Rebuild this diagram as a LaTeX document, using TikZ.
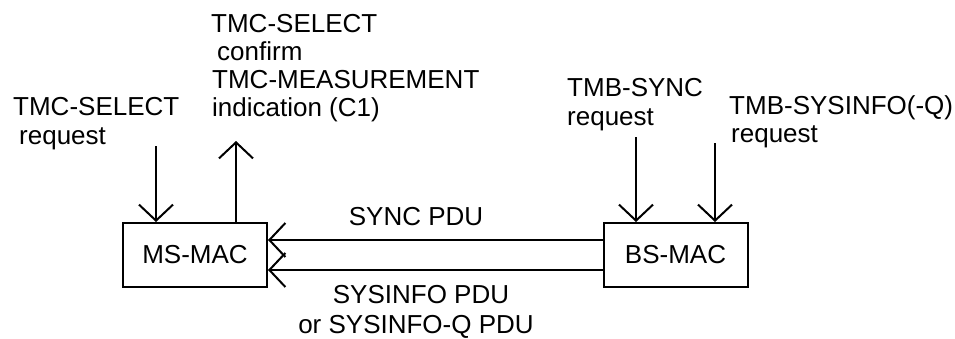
\documentclass[tikz,border=0pt]{standalone}
\usepackage{fontspec}
\setmainfont{Liberation Sans}
\usetikzlibrary{arrows.meta}
\begin{document}
\begin{tikzpicture}[x=1pt,y=-1pt,
  lbl/.style={anchor=base west,inner sep=0pt,font=\fontsize{26pt}{28pt}\selectfont},
  clbl/.style={anchor=base,inner sep=0pt,font=\fontsize{26pt}{28pt}\selectfont},
  macbox/.style={draw,line width=2pt,minimum width=144pt,minimum height=64pt,inner sep=0pt,font=\fontsize{26pt}{28pt}\selectfont},
  vee/.style={-{Straight Barb[length=16pt,width=34pt,line width=2pt]}},
  conn/.style={line width=2pt}]
\useasboundingbox (0,0) rectangle (955,338);
% boxes
\node[macbox] (ms) at (195,255) {MS-MAC};
\node[macbox] (bs) at (675.5,255) {BS-MAC};
% labels
\node[lbl] (ls1) at (13,115) {TMC-SELECT};
\node[lbl] (ls2) at (19,144) {request};
\node[lbl] (m1) at (211,32) {TMC-SELECT};
\node[lbl] (m2) at (217,60) {confirm};
\node[lbl] (m3) at (212,88) {TMC-MEASUREMENT};
\node[lbl] (m4) at (212,116) {indication (C1)};
\node[lbl] (r1) at (567,96) {TMB-SYNC};
\node[lbl] (r2) at (567,125) {request};
\node[lbl] (s1) at (729,114) {TMB-SYSINFO(-Q)};
\node[lbl] (s2) at (731,142) {request};
\node[clbl] (sync) at (416,225) {SYNC PDU};
\node[clbl] (si1) at (421,303) {SYSINFO PDU};
\node[clbl] (si2) at (416,333) {or SYSINFO-Q PDU};
% free ends
\coordinate (a1) at (156,146);
\coordinate (a2) at (236,141);
\coordinate (a3) at (636,137);
\coordinate (a4) at (715,143);
% vertical arrows
\draw[conn,vee] (a1) -- (a1 |- ms.north);
\draw[conn,vee] (a2 |- ms.north) -- (a2);
\draw[conn,vee] (a3) -- (a3 |- bs.north);
\draw[conn,vee] (a4) -- (a4 |- bs.north);
% horizontal arrows
\draw[conn,vee] (bs.west |- 0,240) -- (ms.east |- 0,240);
\draw[conn,vee] (bs.west |- 0,270) -- (ms.east |- 0,270);
\end{tikzpicture}
\end{document}
